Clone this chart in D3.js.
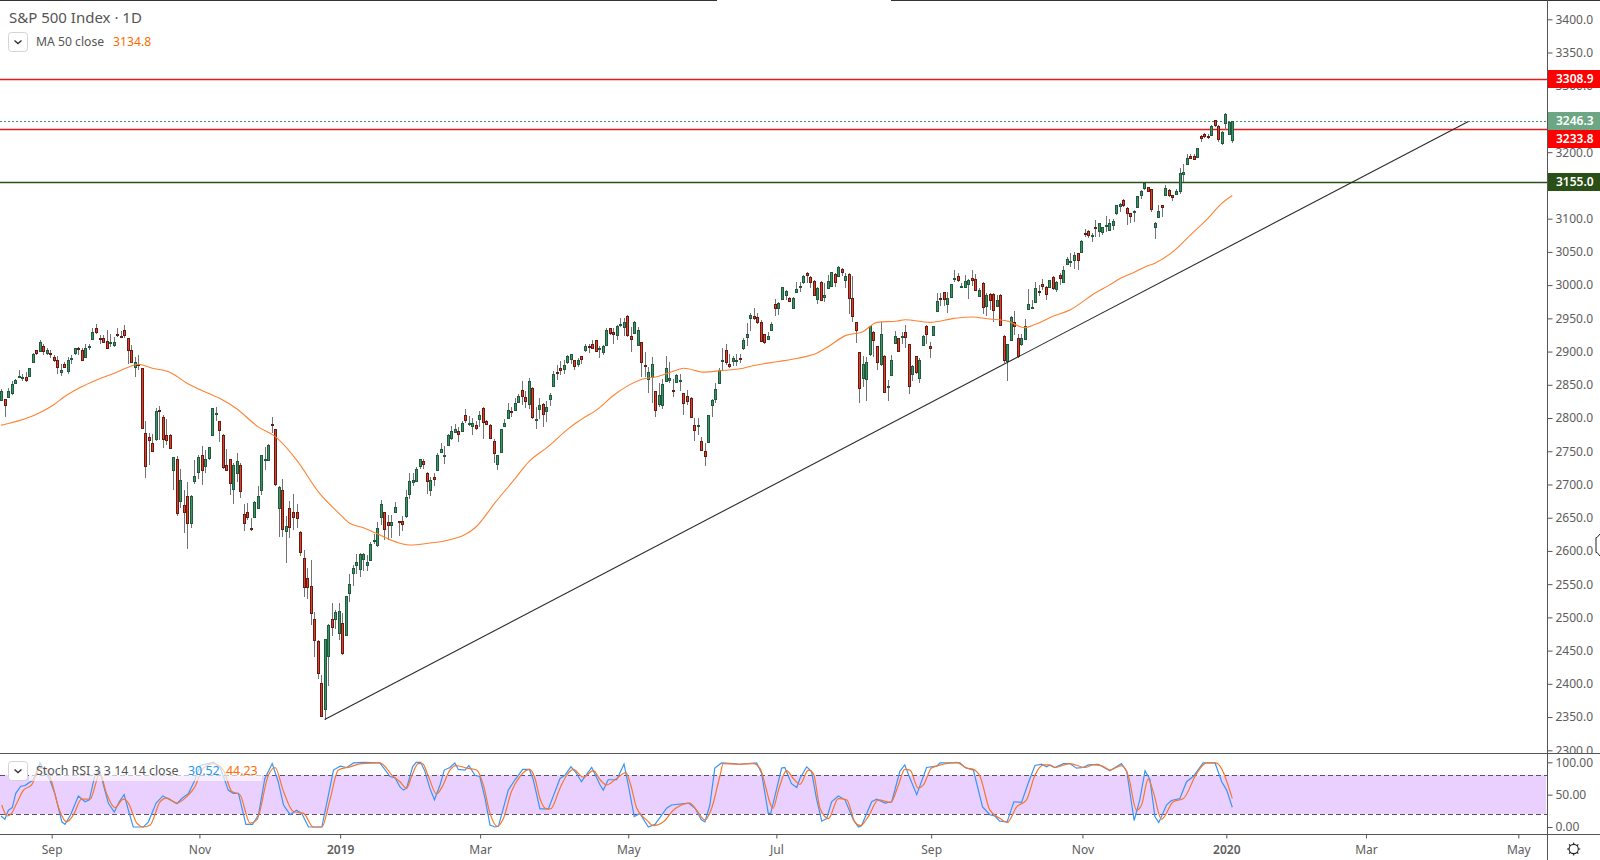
<!DOCTYPE html>
<html><head><meta charset="utf-8"><title>S&P 500 Index</title>
<script src="https://cdn.jsdelivr.net/npm/d3@7/dist/d3.min.js"></script>
<style>html,body{margin:0;padding:0;background:#fff;overflow:hidden}svg{display:block}text{font-family:"Noto Sans",sans-serif}</style>
</head><body><svg id="c" width="1600" height="860"></svg>
<script>
const opens=[2828,2828,2831,2838,2853,2861,2861,2861,2863,2885,
2902,2900,2909,2898,2898,2892,2888,2869,2882,2871,
2888,2897,2906,2903,2891,2906,2920,2936,2921,2921,
2916,2912,2910,2926,2924,2932,2920,2903,2878,2882,
2875,2777,2771,2763,2768,2812,2802,2775,2774,2721,
2738,2674,2669,2682,2641,2706,2718,2745,2727,2739,
2774,2807,2795,2774,2730,2738,2694,2718,2730,2655,
2658,2634,2650,2664,2691,2737,2738,2791,2783,2664,
2691,2630,2664,2658,2659,2629,2590,2560,2547,2497,
2465,2401,2363,2442,2498,2498,2477,2492,2474,2536,
2567,2579,2573,2588,2579,2586,2614,2609,2651,2658,
2643,2638,2658,2645,2645,2653,2685,2703,2706,2728,
2735,2718,2692,2712,2723,2749,2743,2760,2769,2779,
2780,2781,2804,2792,2787,2789,2798,2815,2795,2790,
2766,2730,2748,2787,2800,2810,2812,2824,2842,2831,
2821,2845,2796,2813,2821,2810,2828,2849,2869,2876,
2874,2884,2888,2887,2882,2893,2902,2908,2912,2917,
2904,2899,2911,2935,2929,2926,2940,2937,2953,2923,
2929,2909,2914,2880,2859,2862,2840,2820,2820,2856,
2857,2842,2854,2856,2837,2833,2830,2790,2787,2766,
2751,2763,2819,2828,2854,2885,2903,2882,2887,2886,
2890,2906,2921,2950,2953,2952,2945,2926,2920,2933,
2971,2965,2979,2985,2980,2965,2989,2999,3004,3018,
3012,3006,2979,3004,2982,2995,2998,3016,3013,3025,
3007,3016,2980,2944,2899,2861,2858,2896,2930,2908,
2881,2894,2846,2865,2914,2920,2923,2930,2911,2867,
2893,2861,2911,2938,2909,2924,2961,2980,2989,2971,
2982,3009,3013,2997,2997,3001,3010,3009,2983,3003,
2968,2986,2986,2968,2985,2924,2885,2918,2944,2920,
2911,2918,2964,2966,2974,2991,3001,2997,2996,3012,
2994,3015,3004,3033,3035,3039,3048,3051,3079,3081,
3074,3087,3081,3080,3089,3084,3091,3108,3119,3128,
3116,3108,3111,3117,3135,3145,3147,3144,3087,3103,
3120,3135,3143,3135,3136,3141,3167,3183,3195,3195,
3192,3224,3227,3225,3227,3248,3240,3215,3245,3227,3218];
const highs=[2844,2828,2845,2856,2858,2873,2867,2870,2876,2898,
2903,2917,2912,2906,2902,2895,2893,2882,2885,2892,
2895,2906,2907,2905,2911,2912,2935,2941,2925,2925,
2932,2927,2922,2936,2931,2940,2921,2910,2892,2895,
2875,2795,2777,2776,2815,2818,2805,2798,2776,2742,
2743,2723,2692,2703,2684,2737,2744,2758,2752,2757,
2815,2816,2796,2776,2754,2739,2732,2747,2732,2670,
2672,2649,2675,2697,2744,2757,2761,2802,2784,2697,
2709,2652,2675,2685,2670,2630,2601,2574,2586,2508,
2466,2413,2468,2490,2521,2511,2521,2506,2532,2566,
2579,2596,2597,2597,2594,2613,2626,2644,2677,2659,
2654,2654,2674,2645,2652,2692,2717,2717,2726,2739,
2738,2719,2712,2718,2747,2762,2758,2776,2788,2791,
2787,2796,2814,2803,2800,2795,2810,2817,2797,2791,
2768,2745,2784,2798,2822,2817,2830,2836,2855,2840,
2860,2846,2817,2830,2822,2825,2837,2871,2880,2886,
2887,2895,2897,2888,2890,2894,2911,2912,2918,2918,
2908,2910,2935,2936,2936,2940,2950,2950,2955,2937,
2946,2937,2915,2899,2877,2892,2841,2852,2858,2893,
2885,2858,2867,2866,2838,2842,2831,2800,2800,2772,
2762,2805,2829,2852,2875,2905,2911,2897,2893,2897,
2897,2920,2943,2958,2965,2958,2947,2927,2930,2944,
2979,2975,2997,2993,2982,2982,3004,3004,3015,3019,
3013,3007,2997,3006,3003,3015,3020,3018,3029,3026,
3018,3018,3013,2945,2900,2894,2892,2939,2931,2908,
2944,2895,2857,2895,2931,2921,2930,2940,2912,2880,
2894,2890,2925,2940,2914,2939,2988,2988,2989,2990,
3002,3022,3018,3003,3015,3009,3023,3016,2995,3004,
2988,2988,2988,2985,2986,2925,2911,2953,2961,2926,
2927,2949,2994,2978,3004,3000,3009,2998,3008,3013,
3006,3018,3029,3042,3048,3050,3049,3068,3085,3083,
3078,3098,3094,3088,3104,3099,3099,3120,3124,3129,
3118,3109,3113,3134,3143,3154,3148,3145,3095,3120,
3120,3151,3145,3136,3145,3176,3183,3198,3198,3198,
3207,3226,3229,3227,3241,3248,3241,3232,3259,3246,3247];
const lows=[2826,2802,2830,2834,2852,2861,2856,2854,2862,2884,
2895,2899,2895,2895,2891,2885,2867,2863,2875,2867,
2882,2895,2895,2886,2890,2902,2919,2927,2912,2913,
2905,2907,2907,2922,2920,2921,2882,2883,2862,2872,
2784,2710,2729,2749,2766,2767,2755,2759,2754,2691,
2652,2664,2627,2603,2634,2701,2709,2699,2718,2737,
2773,2795,2764,2724,2722,2684,2671,2704,2680,2630,
2646,2630,2649,2663,2684,2722,2737,2777,2697,2621,
2621,2582,2620,2631,2635,2593,2530,2528,2488,2441,
2408,2351,2346,2397,2472,2483,2466,2443,2473,2523,
2547,2566,2561,2570,2570,2585,2611,2606,2639,2617,
2617,2620,2657,2622,2630,2649,2678,2697,2704,2724,
2724,2686,2682,2698,2722,2748,2731,2759,2767,2778,
2764,2779,2793,2788,2774,2782,2786,2768,2789,2769,
2732,2722,2747,2786,2798,2801,2811,2822,2820,2815,
2813,2799,2784,2798,2787,2794,2818,2848,2857,2865,
2867,2882,2882,2873,2877,2882,2900,2898,2904,2899,
2891,2895,2910,2925,2912,2918,2937,2923,2922,2900,
2927,2908,2862,2862,2837,2822,2801,2817,2813,2855,
2852,2831,2852,2840,2804,2820,2800,2765,2775,2751,
2728,2763,2801,2822,2852,2871,2880,2875,2878,2878,
2883,2903,2908,2931,2947,2942,2916,2912,2918,2932,
2953,2955,2978,2978,2974,2964,2988,2989,3002,3003,
2995,2984,2972,2976,2974,2994,2997,2997,3012,3014,
2996,2957,2945,2913,2822,2847,2825,2893,2892,2873,
2878,2839,2825,2864,2912,2899,2912,2905,2836,2856,
2867,2853,2909,2912,2891,2923,2960,2969,2969,2958,
2981,3004,3004,2995,2995,2979,2999,2992,2982,2957,
2953,2962,2945,2967,2939,2883,2856,2917,2925,2891,
2909,2917,2963,2964,2974,2984,2993,2977,2995,2993,
2990,3000,3003,3032,3028,3025,3023,3050,3073,3071,
3065,3073,3072,3075,3080,3082,3083,3105,3110,3118,
3090,3094,3095,3116,3130,3143,3140,3110,3070,3102,
3103,3134,3132,3126,3135,3137,3155,3182,3190,3190,
3191,3216,3221,3220,3226,3238,3215,3211,3233,3226,3214];
const closes=[2841,2819,2840,2851,2857,2863,2862,2856,2875,2897,
2897,2914,2902,2902,2897,2888,2877,2872,2877,2888,
2890,2905,2904,2888,2905,2908,2930,2930,2920,2915,
2906,2914,2914,2924,2922,2925,2902,2885,2885,2881,
2785,2728,2767,2751,2810,2810,2769,2768,2755,2741,
2656,2706,2658,2641,2682,2713,2741,2723,2738,2756,
2815,2807,2781,2726,2723,2702,2730,2736,2691,2641,
2650,2632,2673,2682,2744,2738,2760,2790,2700,2696,
2633,2638,2636,2650,2650,2599,2546,2546,2507,2466,
2417,2352,2468,2489,2486,2508,2510,2447,2532,2550,
2574,2584,2596,2596,2583,2610,2616,2635,2670,2632,
2638,2643,2666,2644,2640,2681,2705,2706,2724,2738,
2731,2706,2707,2709,2745,2753,2745,2775,2780,2784,
2775,2793,2796,2793,2792,2784,2804,2794,2790,2771,
2748,2744,2783,2792,2812,2808,2822,2833,2833,2825,
2855,2801,2798,2819,2806,2816,2834,2867,2867,2873,
2880,2893,2896,2878,2888,2888,2908,2906,2906,2900,
2905,2908,2933,2927,2926,2939,2942,2945,2924,2918,
2945,2932,2884,2879,2870,2882,2811,2834,2851,2876,
2860,2840,2864,2857,2822,2826,2802,2782,2789,2752,
2743,2804,2827,2843,2873,2887,2885,2879,2891,2887,
2889,2918,2926,2955,2950,2945,2917,2914,2924,2942,
2965,2973,2997,2991,2976,2980,2994,2999,3013,3015,
3004,2985,2995,2977,2985,3006,3019,3004,3027,3021,
3013,2980,2953,2932,2845,2882,2884,2938,2918,2884,
2926,2840,2848,2888,2924,2900,2924,2923,2848,2879,
2869,2888,2924,2926,2906,2938,2976,2979,2979,2980,
3001,3010,3007,2998,3006,3007,3007,2992,2992,2967,
2985,2977,2962,2977,2940,2888,2911,2952,2938,2893,
2920,2938,2971,2967,2995,2989,2998,2986,3007,2996,
3004,3010,3022,3040,3037,3046,3037,3067,3077,3075,
3076,3085,3093,3087,3091,3094,3097,3120,3122,3120,
3108,3103,3111,3134,3141,3153,3141,3114,3093,3112,
3117,3146,3136,3132,3141,3168,3170,3192,3192,3191,
3206,3221,3224,3224,3240,3240,3221,3231,3258,3245,3246.3];

const maBars=[0,8,11,15,18,22.5,27,32,36,39,43,48,53,56.5,62,67,73,78,84,90.5,96,99,103,106.5,112,116,122,127,135,140.5,146,150,155.5,162,165,170,173.6,178,182,187,191.5,194,200,204,211,214,221,226.5,232,235,240,245,249,254.8,257,264,271,276,281,286,291,294,299,304,311,315,318.5,322,325,328,333.5,338,343,347,350];
const maValues=[2789,2801,2808,2820,2832,2846,2857,2867,2876,2881,2875,2869,2852,2843,2830,2814,2787,2772,2737,2687,2657,2642,2635,2627,2614,2609,2612,2616,2636,2673,2708,2734,2757,2787,2798,2815,2832,2848,2858,2863,2871,2875,2869,2871,2875,2879,2885,2890,2898,2907,2924,2930,2944,2946,2948,2944,2950,2952,2949,2946,2936,2941,2953,2963,2988,3000,3011,3019,3027,3033,3052,3075,3100,3123,3134.8];

const kBars=[0,1.1,2.1,3.2,4.2,5.6,6.8,9.2,11.1,13.9,15.4,17.3,18.2,19.8,22,23.9,25.1,26.7,28.1,29.1,30.5,32.2,33.6,35,36.2,37.6,40.5,41.9,44.1,46,48,50,51.4,53.3,54.9,56.6,60.4,62.4,64.6,66,67.5,69.6,71.5,73.2,75,77.1,78.8,80.3,82.2,84,85.5,87.4,91.2,93.1,94.5,96.4,98.3,100.2,103,107.7,110.6,112,113.4,114.4,115.3,117,118,119.3,120.5,121.9,123.2,124.8,126,127.6,129,130,131.9,133,134.7,136.1,137.6,139,140.4,141.4,144.2,146.1,148.3,150.2,151.3,153.2,155.6,158.9,160.3,162,163.6,165,167.9,170.3,171.2,172.6,175,177.1,178.3,180,181.6,184,185.9,189.2,190.6,195.4,197.3,199.1,200.1,201.5,202.9,204.8,208.2,210,214.8,216.2,218.1,218.8,221.9,222.8,224.7,226.2,227.1,229,230.4,231.8,233.3,234.7,236.1,238,239.9,242.3,243.7,244.6,247.5,248.9,251.3,253.2,255.5,256.9,258.4,260.3,263.1,266,266.9,272.6,274,276.4,279,281.1,282.5,283.9,286,287.9,290.1,292,293.9,295.8,297.2,298.2,299.6,302,303.8,305.7,307.6,309.1,311.9,315.2,318.5,320,322.1,323.7,325.2,326.6,328,329.1,331.3,332.7,335.1,337,338.9,341.7,345.1,347,348.4,350];
const kValues=[17,12,26,30,52,63,64,73,99,73,50,8,4,19,48,39,42,80,87,65,37,23,39,50,26,0,0,8,37,48,42,36,44,52,70,95,100,91,57,52,52,4,4,19,75,98,70,34,19,26,21,0,0,50,88,94,92,99,100,99,78,76,62,57,60,93,100,100,86,60,42,65,88,92,99,89,88,95,80,78,44,3,0,1,57,73,89,89,73,28,28,75,80,93,83,70,92,65,57,73,73,97,65,16,21,0,4,29,34,37,29,11,8,34,91,99,98,97,99,83,21,21,91,92,67,61,75,93,86,44,9,13,39,48,42,11,0,2,39,43,37,39,86,96,75,50,92,94,99,99,92,88,31,19,17,9,8,39,38,68,95,97,93,96,92,98,98,91,92,96,97,87,98,86,10,42,87,73,16,7,34,41,44,70,78,99,99,70,57,30.52];
const dBars=[0.2,1.8,3,4.5,6.4,8.7,11.1,12.5,14.4,16.3,18.7,20.6,22.9,25.3,28.1,30,32.4,34.8,36.2,38.6,40.5,42.4,45.2,47.1,50,52.8,55.1,57.5,60.4,63.2,65.6,67.9,70.8,72.7,76,77.9,80.3,83.1,86,88.8,91.2,93.5,95.9,99.2,102.5,107.7,111.5,113.4,115.3,116.7,118.6,119.8,121.5,123.8,125.2,127.6,129.3,132.4,135.2,137.1,139,141.1,142.8,145.1,147.5,150.2,151.8,153.2,155.1,156.2,158.9,160.8,162.7,165.5,168.4,170.3,172.1,175,177.6,179,180.7,183.5,185.4,188.3,191.1,195.8,197.7,200.1,202,204.4,205.3,209.6,213.8,215.7,219.5,220.9,223.3,225.2,227.1,229.5,230.9,232.8,235.2,238,240.4,242.7,244.3,246.5,249.4,252.9,255.1,256.9,258.4,260.7,262.2,264.5,267.8,271.6,274.5,276.4,278.3,281.1,284,286,288.7,291.5,293.9,296.3,297.7,299.6,303.8,308.1,310.5,312.8,315.2,318.5,320.4,322.8,324.2,326.1,327.5,329.9,333.2,336.1,339.9,342.7,345.3,350];
const dValues=[34,17,21,37,57,65,91,91,70,31,8,19,43,43,83,52,30,43,37,6,0,3,39,45,37,47,62,91,98,88,55,50,6,11,80,92,55,24,21,0,0,42,88,93,98,99,78,70,60,78,98,98,78,51,60,88,95,91,88,65,21,1,13,55,78,89,75,44,28,28,60,80,89,77,87,73,65,75,84,65,29,11,2,8,26,37,26,11,29,80,98,97,98,91,29,55,87,75,66,88,83,29,13,44,42,8,2,16,42,38,65,89,88,60,65,91,97,100,91,89,78,26,13,7,31,42,80,96,96,92,98,92,96,95,88,95,80,26,34,74,55,12,39,44,83,99,99,44.23];

const priceTicks=d3.range(2300,3401,50);
const hiddenPriceLabels=[3250,3150];
const stochTicks=[0,50,100];
const bandLevels=[80,20];
const timeTickBars=[14.4,56.4,96.4,136.2,178.3,220.4,264.4,307.4,348.3,388,431.3];
const timeTickLabels=["Sep","Nov","2019","Mar","May","Jul","Sep","Nov","2020","Mar","May"];
const levelPrices=[3308.9,3233.8,3155.0];
const levelColors=["#e8191a","#e8191a","#2a5014"];
const labelFills=["#ff0000","#ff0000","#2a4f17"];
const labelNudges=[0,10,0];
const lastClose=3246.3;
const trendBars=[92,417.1];
const trendPrices=[2346.3,3246.3];
const n=opens.length;

const svg=d3.select("#c");
const x=d3.scaleLinear().domain([0,n-1]).range([1,1232.3]);
const y=d3.scaleLinear().domain([2300,3400]).range([750.3,19.3]);
const ys=d3.scaleLinear().domain([0,100]).range([827,762.3]);
const axisX=1547.5, sepY=753.5, botY=834.5;
const defs=svg.append("defs");
defs.append("clipPath").attr("id","pricePane").append("rect").attr("x",0).attr("y",0).attr("width",1600).attr("height",sepY);
defs.append("clipPath").attr("id","stochPane").append("rect").attr("x",0).attr("y",sepY).attr("width",axisX).attr("height",botY-sepY);

// RSI band
svg.append("rect").attr("x",0).attr("width",1546).attr("y",ys(bandLevels[0])).attr("height",ys(bandLevels[1])-ys(bandLevels[0])).attr("fill","#e9d0fe");
svg.selectAll(".band").data(bandLevels).join("line").attr("x1",0).attr("x2",axisX)
  .attr("y1",d=>Math.round(ys(d))+.5).attr("y2",d=>Math.round(ys(d))+.5).attr("stroke","#5e4f6e").attr("stroke-dasharray","5,3");

// horizontal levels
svg.selectAll(".lvl").data(levelPrices).join("line").attr("x1",0).attr("x2",axisX)
  .attr("y1",d=>Math.floor(y(d))+.5).attr("y2",d=>Math.floor(y(d))+.5)
  .attr("stroke",(d,i)=>levelColors[i]).attr("stroke-width",1.3);
svg.append("line").attr("x1",0).attr("x2",axisX).attr("y1",Math.floor(y(lastClose))+.5).attr("y2",Math.floor(y(lastClose))+.5)
  .attr("stroke","#3f8f66").attr("stroke-dasharray","2,2");

// candles
const idx=d3.range(n);
const gC=svg.append("g").attr("clip-path","url(#pricePane)").attr("shape-rendering","crispEdges");
gC.selectAll("line").data(idx).join("line")
  .attr("x1",i=>Math.round(x(i))+.5).attr("x2",i=>Math.round(x(i))+.5)
  .attr("y1",i=>y(highs[i])).attr("y2",i=>y(lows[i])).attr("stroke","#737373");
gC.selectAll("rect").data(idx).join("rect")
  .attr("x",i=>Math.round(x(i))-.5).attr("width",2)
  .attr("y",i=>Math.round(y(Math.max(opens[i],closes[i])))+.5)
  .attr("height",i=>Math.max(1,Math.round(Math.abs(y(opens[i])-y(closes[i])))))
  .attr("fill",i=>closes[i]>=opens[i]?"#3f9168":"#e0402c")
  .attr("stroke",i=>closes[i]>=opens[i]?"#1f5a3c":"#651a12");

// MA line
svg.append("path").datum(maBars).attr("fill","none").attr("stroke","#ff8232").attr("stroke-width",1.1)
  .attr("d",d3.line().x(d=>x(d)).y((d,i)=>y(maValues[i])).curve(d3.curveMonotoneX));

// trend line
svg.append("path").datum(trendBars).attr("fill","none").attr("stroke","#2b2b2b").attr("stroke-width",1.1)
  .attr("d",d3.line().x(d=>x(d)).y((d,i)=>y(trendPrices[i])));

// stoch lines
const gS=svg.append("g").attr("clip-path","url(#stochPane)");
gS.append("path").datum(kBars).attr("fill","none").attr("stroke","#3b95f5").attr("stroke-width",1.2)
  .attr("d",d3.line().x(d=>x(d)).y((d,i)=>ys(kValues[i])));
gS.append("path").datum(dBars).attr("fill","none").attr("stroke","#f9762b").attr("stroke-width",1.2)
  .attr("d",d3.line().x(d=>x(d)).y((d,i)=>ys(dValues[i])).curve(d3.curveMonotoneX));

// frame
const fr="#555";
svg.append("rect").attr("x",0).attr("y",0).attr("width",717).attr("height",1).attr("fill","#333");
svg.append("rect").attr("x",891).attr("y",0).attr("width",709).attr("height",1).attr("fill","#333");
svg.append("line").attr("x1",0).attr("x2",1600).attr("y1",sepY).attr("y2",sepY).attr("stroke",fr);
svg.append("line").attr("x1",0).attr("x2",1600).attr("y1",botY).attr("y2",botY).attr("stroke",fr);
svg.append("line").attr("x1",axisX).attr("x2",axisX).attr("y1",0).attr("y2",860).attr("stroke",fr);

// price axis
const axFont=12, axCol="#5d5d5d";
function styleAxis(g){g.select(".domain").remove();g.selectAll(".tick line").attr("stroke",fr);
  g.selectAll("text").attr("fill",axCol).style("font-size",axFont+"px").style("font-family",'"Noto Sans",sans-serif');}
svg.append("g").attr("clip-path","url(#pricePane)").attr("transform",`translate(${axisX},0)`)
  .call(d3.axisRight(y).tickValues(priceTicks).tickFormat(d=>hiddenPriceLabels.includes(d)?"":d3.format(".1f")(d)).tickSize(5).tickPadding(3)).call(styleAxis);
svg.append("g").attr("transform",`translate(${axisX},0)`)
  .call(d3.axisRight(ys).tickValues(stochTicks).tickFormat(d3.format(".2f")).tickSize(5).tickPadding(3)).call(styleAxis);
svg.append("g").attr("transform",`translate(0,${botY})`)
  .call(d3.axisBottom(x).tickValues(timeTickBars).tickFormat((d,i)=>timeTickLabels[i]).tickSize(4).tickPadding(7)).call(styleAxis)
  .selectAll("text").attr("font-weight",(d,i)=>/^\d+$/.test(timeTickLabels[i])?600:400);

// price labels
function tag(fill,cy,txt){
  svg.append("rect").attr("x",axisX+.5).attr("width",52).attr("y",cy-9).attr("height",18).attr("fill",fill);
  svg.append("text").attr("x",1556).attr("y",cy+4.2).attr("fill","#fff").attr("font-size",12).attr("font-weight",600).text(txt);
}
tag("#6ca684",Math.floor(y(lastClose)),d3.format(".1f")(lastClose));
levelPrices.forEach((p,i)=>tag(labelFills[i],Math.floor(y(p))+labelNudges[i],d3.format(".1f")(p)));

// legends
function chevBox(bx,by){
  svg.append("rect").attr("x",bx+.5).attr("y",by+.5).attr("width",19).attr("height",19).attr("rx",3).attr("fill","#fff").attr("stroke","#d4d4d4");
  svg.append("path").attr("d",`M${bx+6.5} ${by+8.5}l3.5 3l3.5 -3`).attr("fill","none").attr("stroke","#333").attr("stroke-width",1.4);
}
svg.append("text").attr("x",9).attr("y",23).attr("font-size",15).attr("fill","#555").text("S&P 500 Index · 1D");
chevBox(8,32);
svg.append("text").attr("x",36).attr("y",46).attr("font-size",12.2).attr("fill","#555").text("MA 50 close");
svg.append("text").attr("x",113).attr("y",46).attr("font-size",12.2).attr("fill","#ff6d00").text("3134.8");

svg.append("rect").attr("x",29).attr("y",762).attr("width",233).attr("height",19).attr("fill","#fff").attr("opacity",.65);
chevBox(8,761);
svg.append("text").attr("x",36).attr("y",775).attr("font-size",12.4).attr("fill","#555").text("Stoch RSI 3 3 14 14 close");
svg.append("text").attr("x",188).attr("y",775).attr("font-size",12.4).attr("fill","#2196f3").text("30.52");
svg.append("text").attr("x",226).attr("y",775).attr("font-size",12.4).attr("fill","#ff6d00").text("44.23");

// gear
const gx=1573.7, gy=849;
const gear=svg.append("g").attr("transform",`translate(${gx},${gy})`);
gear.append("circle").attr("r",4.6).attr("fill","none").attr("stroke","#222").attr("stroke-width",1.1);
gear.selectAll("line").data(d3.range(8)).join("line").attr("x1",d=>4.6*Math.cos(d*Math.PI/4)).attr("y1",d=>4.6*Math.sin(d*Math.PI/4))
  .attr("x2",d=>6.6*Math.cos(d*Math.PI/4)).attr("y2",d=>6.6*Math.sin(d*Math.PI/4)).attr("stroke","#222").attr("stroke-width",1.1);

// cursor remnant at right edge
svg.append("path").attr("d","M1600 534l-3 3.5l-1 0l0 15l1 0l3 3.5").attr("fill","#fff").attr("stroke","#222");
</script></body></html>
